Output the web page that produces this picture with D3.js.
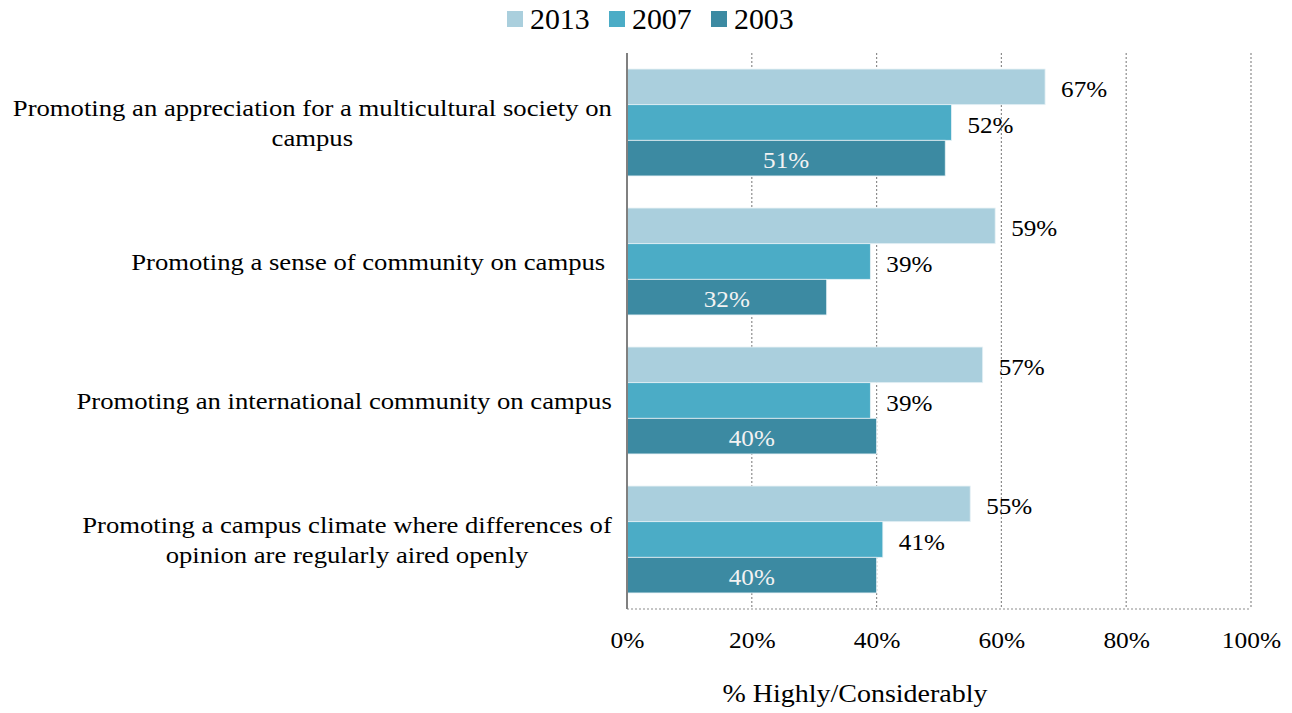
<!DOCTYPE html>
<html><head><meta charset="utf-8">
<script src="https://cdn.jsdelivr.net/npm/d3@7"></script>
<style>body{margin:0;background:#fff;} text{font-family:"Liberation Serif","Times New Roman",serif;}</style>
</head><body><svg id="c" width="1292" height="713"></svg>
<script>
const categories = [
  "Promoting an appreciation for a multicultural society on|campus",
  "Promoting a sense of community on campus ",
  "Promoting an international community on campus",
  "Promoting a campus climate where differences of|opinion are regularly aired openly"
];
const seriesNames = ["2013", "2007", "2003"];
const values2013 = [67, 59, 57, 55];
const values2007 = [52, 39, 39, 41];
const values2003 = [51, 32, 40, 40];
const tickValues = [0, 20, 40, 60, 80, 100];
const colors = ["#aacfdd", "#4bacc6", "#3c8aa2"];
const seriesValues = [values2013, values2007, values2003];

(function () {
const svg = d3.select("#c");
const pLeft = 627, pRight = 1251, pTop = 53, pBottom = 609;
const x = d3.scaleLinear().domain([0, 100]).range([pLeft, pRight]);
const y = d3.scaleBand().domain(d3.range(categories.length)).range([pTop, pBottom]).paddingInner(0).paddingOuter(0);
const inner = d3.scaleBand().domain(d3.range(seriesNames.length)).range([0, y.bandwidth()]).paddingInner(0).paddingOuter(0.45);

// gridlines
svg.append("g").selectAll("line").data(tickValues.filter(d => d > 0)).join("line")
  .attr("x1", d => x(d)).attr("x2", d => x(d)).attr("y1", pTop).attr("y2", pBottom)
  .attr("stroke", "#8c8c8c").attr("stroke-width", 1.2).attr("stroke-dasharray", "2,2");
svg.append("line").attr("x1", pLeft).attr("x2", pRight).attr("y1", pBottom).attr("y2", pBottom)
  .attr("stroke", "#8c8c8c").attr("stroke-width", 1.2).attr("stroke-dasharray", "2,2");

// bars
seriesValues.forEach((vals, s) => {
  const g = svg.append("g");
  g.selectAll("rect").data(vals).join("rect")
    .attr("x", x(0)).attr("y", (d, i) => y(i) + inner(s))
    .attr("width", d => x(d) - x(0)).attr("height", inner.bandwidth())
    .attr("fill", colors[s]).attr("stroke", "#e6f1f5").attr("stroke-width", 0.8);
  g.selectAll("text").data(vals).join("text")
    .attr("transform", (d, i) => `translate(${s === 2 ? (x(0) + x(d)) / 2 : x(d) + 16},${y(i) + inner(s) + inner.bandwidth() / 2 + 2}) scale(1.07,1)`)
    .attr("dy", "0.35em")
    .attr("text-anchor", s === 2 ? "middle" : "start")
    .attr("font-size", 23.5)
    .attr("fill", s === 2 ? "#f2f2f2" : "#000")
    .text(d => d + "%");
});

// y axis line
svg.append("line").attr("x1", pLeft).attr("x2", pLeft).attr("y1", pTop).attr("y2", pBottom)
  .attr("stroke", "#808080").attr("stroke-width", 2);

// x tick labels via axis
const xAxis = svg.append("g").attr("transform", `translate(0,${pBottom})`)
  .call(d3.axisBottom(x).tickValues(tickValues).tickFormat(d => d + "%").tickSize(0).tickPadding(22));
xAxis.select(".domain").remove();
xAxis.selectAll("text").attr("font-size", 24).attr("fill", "#000")
  .attr("transform", "scale(1.06,1)")
  .style("font-family", '"Liberation Serif","Times New Roman",serif');
xAxis.selectAll(".tick").each(function () {
  const t = d3.select(this);
  const tr = t.attr("transform");
  t.select("text").attr("transform", "scale(1.06,1)");
});

// category labels
const labelRight = 612, sxCat = 1.16;
categories.forEach((c, i) => {
  const lines = c.split("|");
  const g = svg.append("g");
  const ts = lines.map((l, j) => g.append("text").attr("font-size", 23).attr("fill", "#000")
    .attr("text-anchor", "middle").attr("xml:space", "preserve").text(l));
  const widths = ts.map(t => t.node().getComputedTextLength() * sxCat);
  const maxW = d3.max(widths);
  const cx = labelRight - maxW / 2;
  const cy = y(i) + y.bandwidth() / 2;
  ts.forEach((t, j) => t.attr("transform", `translate(${cx},${cy + (j - (lines.length - 1) / 2) * 30}) scale(${sxCat},1)`).attr("dy", "0.35em"));
});

// axis title
svg.append("text").attr("transform", "translate(855,693) scale(1.12,1)").attr("dy", "0.35em").attr("text-anchor", "middle")
  .attr("font-size", 25).attr("fill", "#000").text("% Highly/Considerably");

// legend
const legX = [507, 609, 711];
const lg = svg.append("g");
seriesNames.forEach((n, i) => {
  lg.append("rect").attr("x", legX[i]).attr("y", 11).attr("width", 16).attr("height", 16).attr("fill", colors[i]);
  lg.append("text").attr("transform", `translate(${legX[i] + 23},19) scale(1.03,1)`).attr("dy", "0.35em").attr("font-size", 29).attr("fill", "#000").text(n);
});
})();
</script></body></html>
